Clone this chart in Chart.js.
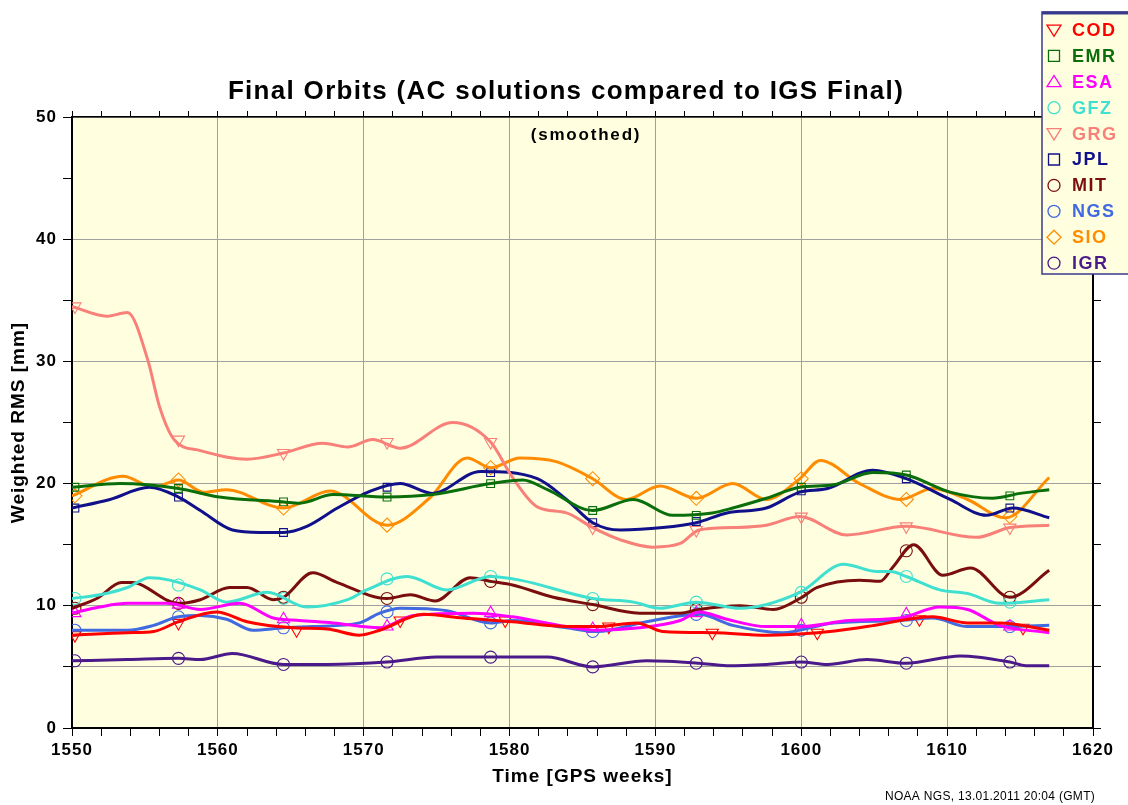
<!DOCTYPE html>
<html>
<head>
<meta charset="utf-8">
<script src="https://cdn.jsdelivr.net/npm/chart.js@4.4.0/dist/chart.umd.min.js"></script>
<style>
  html, body { margin: 0; padding: 0; background: #fff; }
</style>
</head>
<body>
<canvas id="rmsChart" width="1128" height="805"></canvas>
<script>
// Final orbits, AC solutions vs IGS Final (smoothed), weighted RMS in mm
// curves are read off the plot at their turning points, markers separately

const acNames = ['COD', 'EMR', 'ESA', 'GFZ', 'GRG', 'JPL', 'MIT', 'NGS', 'SIO', 'IGR']

const codX = [1550, 1553.8, 1555.6, 1557.3, 1559.9, 1562, 1565.2, 1567.5, 1569.7, 1571.1, 1574.1, 1576.8, 1580.2, 1583.9, 1586, 1588.7, 1590.5, 1594, 1597.6, 1601.1, 1604.5, 1609, 1611.4, 1613.6, 1617]
const codY = [7.6, 7.8, 7.9, 8.7, 9.5, 8.7, 8.2, 8.1, 7.6, 8.0, 9.3, 9.0, 8.7, 8.3, 8.3, 8.6, 7.9, 7.8, 7.6, 7.8, 8.3, 9.1, 8.6, 8.6, 8.0]

const emrX = [1550, 1553.3, 1557.3, 1560.1, 1564.5, 1565.6, 1567.9, 1571.6, 1574.7, 1578.7, 1580.9, 1582.6, 1585.7, 1588.5, 1591.2, 1593.9, 1595.3, 1597.6, 1599.9, 1602.2, 1604.9, 1607.2, 1610.2, 1613.1, 1615, 1617]
const emrY = [19.7, 20.0, 19.6, 18.9, 18.5, 18.4, 19.1, 18.9, 19.1, 20.0, 20.3, 19.5, 17.8, 18.7, 17.4, 17.6, 18.0, 18.8, 19.7, 19.9, 20.9, 20.7, 19.3, 18.8, 19.2, 19.5]

const esaX = [1550, 1551.9, 1553.8, 1556.5, 1558.8, 1561.5, 1563.8, 1565.6, 1567.9, 1571.1, 1573.4, 1577.5, 1580.2, 1583.9, 1586, 1588.9, 1591.7, 1593, 1594.9, 1597.6, 1599.9, 1603.3, 1606.8, 1609.5, 1611.4, 1613.6, 1617]
const esaY = [9.4, 9.9, 10.2, 10.2, 9.7, 10.2, 9.0, 8.8, 8.6, 8.2, 9.2, 9.4, 9.1, 8.3, 8.0, 8.2, 8.8, 9.5, 8.9, 8.3, 8.3, 8.8, 9.0, 9.9, 9.7, 8.4, 7.8]

const gfzX = [1550, 1551.9, 1553.8, 1555.3, 1556.7, 1558.8, 1560.6, 1563.4, 1566.1, 1568.9, 1570.2, 1573, 1575.7, 1578.7, 1580.7, 1585.7, 1588.5, 1590.3, 1592.8, 1595.8, 1599.9, 1602.9, 1605.2, 1606.1, 1607.2, 1609.5, 1611.4, 1613.6, 1617]
const gfzY = [10.6, 10.9, 11.5, 12.3, 12.1, 11.3, 10.3, 11.1, 9.9, 10.5, 11.3, 12.4, 11.3, 12.4, 12.1, 10.6, 10.3, 9.8, 10.3, 9.8, 11.1, 13.4, 12.8, 12.8, 12.4, 11.3, 11.0, 10.2, 10.5]

const grgX = [1550, 1552.4, 1553.8, 1555.2, 1556, 1557, 1558.8, 1562, 1564.5, 1567.2, 1568.9, 1570.6, 1572.5, 1576.1, 1578.7, 1580.2, 1581.9, 1583.9, 1585.7, 1587.6, 1589.8, 1591.7, 1593, 1595.3, 1597.6, 1599.9, 1603.1, 1607.2, 1612, 1614.3, 1617]
const grgY = [34.5, 33.7, 34.0, 30.1, 26.3, 23.6, 22.7, 22.0, 22.5, 23.3, 23.0, 23.6, 22.9, 25.0, 23.4, 20.5, 18.1, 17.6, 16.4, 15.4, 14.8, 15.1, 16.2, 16.4, 16.6, 17.3, 15.8, 16.5, 15.6, 16.4, 16.6]

const jplX = [1550, 1552.6, 1555.3, 1557.3, 1558.8, 1561, 1562.9, 1564.5, 1566.1, 1568.2, 1570.5, 1572.5, 1574.7, 1578, 1581.9, 1583.9, 1585.7, 1587.6, 1590.5, 1592.8, 1594.9, 1597.6, 1599.9, 1601.8, 1604.9, 1607.2, 1610.2, 1612.7, 1614.5, 1617]
const jplY = [18.0, 18.7, 19.7, 18.9, 17.8, 16.2, 16.0, 16.0, 16.5, 18.0, 19.4, 20.0, 19.2, 21.0, 20.4, 18.7, 16.8, 16.2, 16.4, 16.8, 17.6, 18.0, 19.3, 19.6, 21.1, 20.4, 18.7, 17.4, 18.0, 17.2]

const mitX = [1550, 1551.7, 1553.4, 1554.1, 1557.3, 1558.8, 1560.8, 1562, 1563.8, 1564.5, 1566.5, 1568.2, 1571.6, 1573.2, 1574.9, 1577.3, 1578.7, 1580.2, 1583, 1585.7, 1588.9, 1591.7, 1593, 1595.8, 1598.1, 1599.9, 1601.1, 1604, 1605.4, 1606.3, 1607.7, 1609.7, 1611.6, 1614.3, 1617]
const mitY = [9.8, 10.6, 11.9, 11.9, 10.2, 10.5, 11.5, 11.5, 10.5, 10.7, 12.7, 11.9, 10.6, 10.9, 10.4, 12.3, 12.0, 11.7, 10.7, 10.1, 9.4, 9.4, 9.7, 10.0, 9.7, 10.6, 11.5, 12.1, 12.0, 13.2, 15.0, 12.5, 13.1, 10.7, 12.9]

const ngsX = [1550, 1553.8, 1555.6, 1557.3, 1558.8, 1560.6, 1562.4, 1564.5, 1566.5, 1569.7, 1571.1, 1572.5, 1575.7, 1578.7, 1580.2, 1583.9, 1586, 1589.4, 1593, 1595.3, 1598.7, 1602.2, 1606.8, 1609, 1611.4, 1614.3, 1617]
const ngsY = [8.0, 8.0, 8.4, 9.1, 9.2, 8.9, 8.0, 8.2, 8.3, 8.6, 9.4, 9.8, 9.6, 8.6, 8.8, 8.2, 7.9, 8.7, 9.3, 8.4, 7.8, 8.6, 8.8, 9.0, 8.3, 8.3, 8.4]

const sioX = [1550, 1553.5, 1555.6, 1557.3, 1559, 1560.6, 1564.5, 1567.7, 1571.6, 1574.5, 1577.1, 1578.7, 1580.7, 1583.2, 1585.7, 1588, 1590.3, 1592.8, 1595.3, 1597.6, 1599.9, 1601.3, 1604, 1606.8, 1609, 1611.4, 1614, 1617]
const sioY = [19.0, 20.6, 19.7, 20.3, 19.3, 19.5, 18.0, 19.4, 16.6, 18.8, 22.1, 21.3, 22.1, 21.8, 20.4, 18.7, 19.8, 18.8, 20.0, 18.7, 20.4, 21.9, 20.0, 18.7, 19.6, 18.7, 17.2, 20.5]

const igrX = [1550, 1553.8, 1557.3, 1558.8, 1561, 1564.5, 1567.5, 1571.6, 1575, 1578.7, 1582.6, 1585.7, 1589.4, 1593, 1594.9, 1597.6, 1600, 1601.8, 1604.5, 1607.2, 1610.9, 1614.3, 1615.4, 1617]
const igrY = [5.5, 5.6, 5.7, 5.6, 6.1, 5.2, 5.2, 5.4, 5.8, 5.8, 5.8, 5.0, 5.5, 5.3, 5.1, 5.2, 5.4, 5.2, 5.6, 5.3, 5.9, 5.4, 5.1, 5.1]

// symbol positions (weeks) and values
const codMarkX = [1550.2, 1557.3, 1565.4, 1572.5, 1579.7, 1586.8, 1593.9, 1601.1, 1608.1, 1615.2]
const codMarkY = [7.6, 8.6, 8.0, 8.8, 8.8, 8.3, 7.8, 7.8, 8.9, 8.2]
const markX = [1550.2, 1557.3, 1564.5, 1571.6, 1578.7, 1585.7, 1592.8, 1600, 1607.2, 1614.3]
const emrMarkY = [19.7, 19.6, 18.5, 18.9, 20.0, 17.8, 17.4, 19.7, 20.7, 19.0]
const esaMarkY = [9.4, 10.1, 8.9, 8.3, 9.4, 8.1, 9.4, 8.4, 9.3, 8.3]
const gfzMarkY = [10.6, 11.7, 10.6, 12.2, 12.4, 10.6, 10.3, 11.1, 12.4, 10.3]
const grgMarkY = [34.5, 23.6, 22.5, 23.4, 23.4, 16.4, 16.2, 17.3, 16.5, 16.4]
const jplMarkY = [18.0, 18.9, 16.0, 19.7, 20.9, 16.8, 16.9, 19.4, 20.4, 18.0]
const mitMarkY = [9.8, 10.2, 10.7, 10.6, 12.0, 10.1, 9.7, 10.7, 14.5, 10.7]
const ngsMarkY = [8.0, 9.1, 8.2, 9.5, 8.6, 7.9, 9.3, 8.0, 8.8, 8.3]
const sioMarkY = [19.0, 20.3, 18.0, 16.6, 21.3, 20.4, 18.8, 20.4, 18.7, 17.3]
const igrMarkY = [5.5, 5.7, 5.2, 5.4, 5.8, 5.0, 5.3, 5.4, 5.3, 5.4]

const yTicks = [0, 10, 20, 30, 40, 50]
const xTicks = [1550, 1560, 1570, 1580, 1590, 1600, 1610, 1620]

const colors = ['#ff0000', '#0a6e0a', '#ff00ff', '#40e0d0', '#f88078', '#10108a', '#7a0e0e', '#4169e1', '#ff8c00', '#4b1a8a']
const symbols = [['triangle', 180], ['rect', 0], ['triangle', 0], ['circle', 0], ['triangle', 180],
                 ['rect', 0], ['circle', 0], ['circle', 0], ['rectRot', 0], ['circle', 0]]

const lineX = [codX, emrX, esaX, gfzX, grgX, jplX, mitX, ngsX, sioX, igrX]
const lineY = [codY, emrY, esaY, gfzY, grgY, jplY, mitY, ngsY, sioY, igrY]
const markYs = [codMarkY, emrMarkY, esaMarkY, gfzMarkY, grgMarkY, jplMarkY, mitMarkY, ngsMarkY, sioMarkY, igrMarkY]

const toPoints = (xs, ys) => xs.map((x, i) => ({x: x, y: ys[i]}))
const markRadius = {triangle: 7, rect: 5.5, circle: 6, rectRot: 7}

let datasets = []
acNames.forEach((name, i) => {
    datasets.push({
        label: name,
        data: toPoints(lineX[i], lineY[i]),
        borderColor: colors[i],
        borderWidth: 3,
        pointRadius: 0,
        fill: false,
        cubicInterpolationMode: 'monotone'
    })
})
acNames.forEach((name, i) => {
    const mx = i === 0 ? codMarkX : markX
    datasets.push({
        label: name + ' marks',
        data: toPoints(mx, markYs[i]),
        showLine: false,
        borderColor: colors[i],
        pointBorderColor: colors[i],
        pointBackgroundColor: 'rgba(0,0,0,0)',
        pointStyle: symbols[i][0],
        rotation: symbols[i][1],
        pointRadius: markRadius[symbols[i][0]],
        pointBorderWidth: 1.1
    })
})

const boldFont = size => ({family: '"Liberation Sans", Arial, sans-serif', size: size, weight: 'bold'})

// draws one legend symbol
const drawSymbol = (ctx, style, rot, x, y, r) => {
    ctx.beginPath()
    if (style === 'circle') {
        ctx.arc(x, y, r - 1, 0, Math.PI * 2)
    } else if (style === 'rect') {
        ctx.rect(x - r + 1.5, y - r + 1.5, 2 * r - 3, 2 * r - 3)
    } else if (style === 'rectRot') {
        ctx.moveTo(x, y - r); ctx.lineTo(x + r, y); ctx.lineTo(x, y + r); ctx.lineTo(x - r, y); ctx.closePath()
    } else {
        const d = rot === 180 ? 1 : -1
        ctx.moveTo(x - r, y - d * r * 0.7); ctx.lineTo(x + r, y - d * r * 0.7); ctx.lineTo(x, y + d * r * 0.9); ctx.closePath()
    }
    ctx.stroke()
}

const decorations = {
    id: 'decorations',
    beforeDraw(chart) {
        const {ctx, chartArea: a} = chart
        ctx.save()
        ctx.fillStyle = '#ffffe0'
        ctx.fillRect(a.left, a.top, a.right - a.left, a.bottom - a.top)
        ctx.restore()
        // the reference lettering runs a little wide
        ctx.letterSpacing = '1px'
    },
    afterDraw(chart) {
        const {ctx} = chart
        ctx.save()
        ctx.fillStyle = '#000'
        ctx.textAlign = 'center'
        ctx.textBaseline = 'middle'
        ctx.letterSpacing = '1.3px'
        ctx.font = 'bold 26px "Liberation Sans", Arial, sans-serif'
        ctx.fillText('Final Orbits (AC solutions compared to IGS Final)', 566, 92)
        ctx.letterSpacing = '1.8px'
        ctx.font = 'bold 17px "Liberation Sans", Arial, sans-serif'
        ctx.fillText('(smoothed)', 586, 135)
        ctx.letterSpacing = '0.3px'
        ctx.font = '12px "Liberation Sans Narrow", "Liberation Sans", sans-serif'
        ctx.fillText('NOAA NGS, 13.01.2011 20:04 (GMT)', 990, 797)

        // legend box
        ctx.fillStyle = '#ffffe0'
        ctx.fillRect(1042, 12, 90, 262)
        ctx.strokeStyle = '#3a3a8c'
        ctx.lineWidth = 1.5
        ctx.strokeRect(1042, 12, 90, 262)
        ctx.lineWidth = 3
        ctx.beginPath(); ctx.moveTo(1042, 13); ctx.lineTo(1128, 13); ctx.stroke()

        ctx.textAlign = 'left'
        ctx.letterSpacing = '1.5px'
        ctx.font = 'bold 18px "Liberation Sans", Arial, sans-serif'
        acNames.forEach((name, i) => {
            const y = 30 + i * 25.9
            ctx.strokeStyle = colors[i]
            ctx.lineWidth = 1.3
            drawSymbol(ctx, symbols[i][0], symbols[i][1], 1054, y, 7)
            ctx.fillStyle = colors[i]
            ctx.fillText(name, 1072, y + 1)
        })
        ctx.restore()
        ctx.letterSpacing = '0px'
    }
}

const gridGray = '#a0a0a0'

new Chart(document.getElementById('rmsChart'), {
    type: 'line',
    data: {datasets: datasets},
    plugins: [decorations],
    options: {
        responsive: false,
        animation: false,
        layout: {padding: {top: 109, right: 27, left: 0, bottom: 0}},
        plugins: {legend: {display: false}, tooltip: {enabled: false}},
        scales: {
            x: {
                type: 'linear', position: 'bottom', min: xTicks[0], max: xTicks[xTicks.length - 1],
                ticks: {
                    stepSize: 2, maxTicksLimit: 100, autoSkip: false, maxRotation: 0, padding: 4,
                    color: '#000', font: boldFont(17),
                    callback: v => xTicks.includes(v) ? v : ''
                },
                grid: {
                    color: c => (c.tick && xTicks.includes(c.tick.value)) ? gridGray : 'rgba(0,0,0,0)',
                    tickColor: '#000', tickLength: 8
                },
                border: {display: true, color: '#000', width: 2},
                title: {display: true, text: 'Time [GPS weeks]', color: '#000', font: boldFont(19), padding: {top: 0, bottom: 17}},
                afterFit: s => { s.height = 77 }
            },
            x2: {
                type: 'linear', position: 'top', min: xTicks[0], max: xTicks[xTicks.length - 1],
                ticks: {display: false, stepSize: 2, maxTicksLimit: 100},
                grid: {drawOnChartArea: false, tickColor: '#000', tickLength: 6},
                border: {display: true, color: '#000', width: 1.5},
                afterFit: s => { s.height = 8 }
            },
            y: {
                position: 'left', min: 0, max: 50,
                ticks: {
                    stepSize: 5, maxTicksLimit: 100, padding: 6, color: '#000', font: boldFont(17),
                    callback: v => yTicks.includes(v) ? v : ''
                },
                grid: {
                    color: c => (c.tick && (yTicks.includes(c.tick.value) || c.tick.value === 5)) ? gridGray : 'rgba(0,0,0,0)',
                    tickColor: '#000', tickLength: 9
                },
                border: {display: true, color: '#000', width: 2},
                title: {display: true, text: 'Weighted RMS [mm]', color: '#000', font: boldFont(19), padding: {top: 7, bottom: 0}},
                afterFit: s => { s.width = 72 }
            },
            y2: {
                position: 'right', min: 0, max: 50,
                ticks: {display: false, stepSize: 5, maxTicksLimit: 100},
                grid: {drawOnChartArea: false, tickColor: '#000', tickLength: 8},
                border: {display: true, color: '#000', width: 2},
                afterFit: s => { s.width = 8 }
            }
        }
    }
})
</script>
</body>
</html>
